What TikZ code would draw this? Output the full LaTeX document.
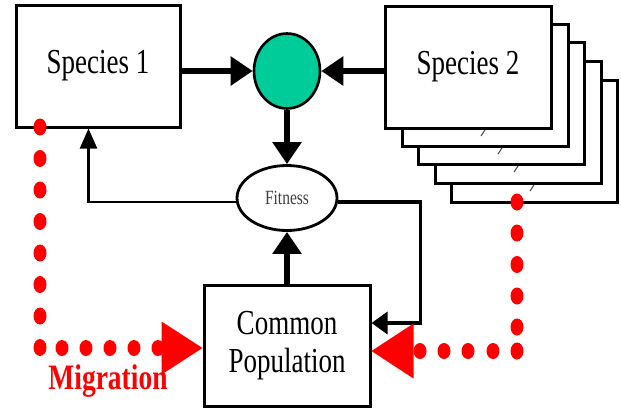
\documentclass[tikz,border=0pt]{standalone}
\usepackage{fontspec}
\setmainfont{Liberation Serif}
\usetikzlibrary{arrows.meta,shapes.geometric,calc}
\definecolor{mint}{HTML}{00CC99}
\definecolor{migred}{HTML}{FF0000}
\newcommand{\tall}[1]{\scalebox{1}[1.3]{#1}}
\tikzset{
  box/.style={draw=black,line width=3pt,fill=white,inner sep=0pt,
    font=\fontsize{27}{40}\selectfont},
  thickarrow/.style={line width=5.5pt,-{Triangle[length=22pt,width=28pt]}},
  midarrow/.style={line width=3.5pt,-{Triangle[length=16pt,width=22pt]}},
  thinarrow/.style={line width=2.2pt,-{Triangle[length=20pt,width=17pt]}},
  reddot/.style={fill=migred},
  tick/.style={line width=1pt,black!70}
}
\begin{document}
\begin{tikzpicture}[x=1pt,y=-1pt]
\useasboundingbox (0,0) rectangle (621,408);
% stacked boxes behind Species 2
\foreach \dx/\dy in {66/74,50/55,33/36,17/18}{
  \draw[line width=3pt,fill=white] (385+\dx,6+\dy) rectangle (551+\dx,128+\dy);
}
\draw[tick] (481,136) -- (485,130);
\draw[tick] (498,154) -- (502,148);
\draw[tick] (514,172) -- (518,166);
\draw[tick] (530,191) -- (534,185);

\node[box,minimum width=164pt,minimum height=122pt] (s1) at (98,66) {\tall{Species 1}};
\node[box,minimum width=166pt,minimum height=122pt] (s2) at (468,67) {\tall{Species 2}};
\node[draw=black,line width=2.6pt,fill=mint,ellipse,minimum width=66pt,minimum height=75pt,inner sep=0pt] (circ) at (287,71) {};
\node[draw=black,line width=2.8pt,fill=white,ellipse,minimum width=100pt,minimum height=65pt,inner sep=0pt,
  font=\fontsize{15.5}{18}\selectfont,text=black!75] (fit) at (287,198) {\tall{Fitness}};
\node[box,minimum width=166pt,minimum height=121pt,align=center] (cp) at (287,345.5)
  {\tall{Common}\\[-2pt]\tall{Population}};

% connectors
\draw[thickarrow] (s1.east |- circ.west) -- (circ.west);
\draw[thickarrow] (s2.west |- circ.east) -- (circ.east);
\draw[thickarrow] (circ.south) -- (fit.north);
\draw[thickarrow] (cp.north) -- (fit.south);
\draw[thinarrow] ($(fit.west)+(0,4)$) -| ([xshift=74pt]s1.south west);
\draw[midarrow] ($(fit.east)+(0,4)$) -| ($(cp.east)+(49,-22.5)$) -- ($(cp.east)+(0,-22.5)$);

% migration dots (left)
\foreach \y in {127,158.5,190,221.5,253,284.5,316,347.5}{
  \fill[reddot] (40,\y) ellipse [x radius=6.5pt, y radius=8.5pt];
}
\foreach \x in {62,86,110,134,158}{
  \fill[reddot] (\x,348) ellipse [x radius=6.5pt, y radius=8pt];
}
\fill[migred] (cp.west |- 0,348) -- ++(-41,-26.5) -- ++(0,53) -- cycle;
% migration dots (right)
\foreach \y in {202,233,264.5,296,327,351}{
  \fill[reddot] (517,\y) ellipse [x radius=6.5pt, y radius=8.5pt];
}
\foreach \x in {420,444,468,493}{
  \fill[reddot] (\x,351) ellipse [x radius=6.5pt, y radius=8pt];
}
\fill[migred] (cp.east |- 0,351) -- ++(42,-27.5) -- ++(0,55) -- cycle;

\node[text=migred,font=\bfseries\fontsize{27.5}{30}\selectfont,inner sep=0pt] (mig) at (108,381) {\tall{Migration}};
\end{tikzpicture}
\end{document}
